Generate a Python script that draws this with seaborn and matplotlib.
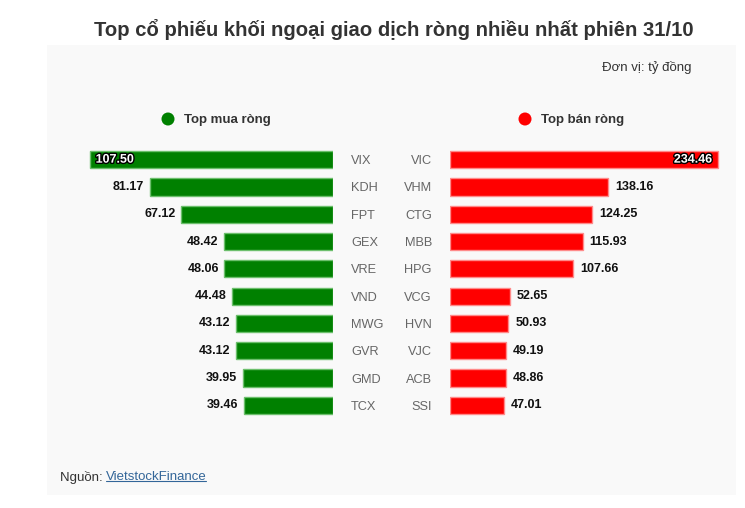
import matplotlib
matplotlib.use("Agg")
import matplotlib.pyplot as plt
import matplotlib.patheffects as pe
from matplotlib.patches import Rectangle, Ellipse
from matplotlib.lines import Line2D
import seaborn as sns

# ----------------------------------------------------
# data (ty dong)
# ----------------------------------------------------
buy_tickers = ["VIX", "KDH", "FPT", "GEX", "VRE", "VND", "MWG", "GVR", "GMD", "TCX"]
buy_values = [107.50, 81.17, 67.12, 48.42, 48.06, 44.48, 43.12, 43.12, 39.95, 39.46]

sell_tickers = ["VIC", "VHM", "CTG", "MBB", "HPG", "VCG", "HVN", "VJC", "ACB", "SSI"]
sell_values = [234.46, 138.16, 124.25, 115.93, 107.66, 52.65, 50.93, 49.19, 48.86, 47.01]

TITLE = "Top cổ phiếu khối ngoại giao dịch ròng nhiều nhất phiên 31/10"
UNIT = "Đơn vị: tỷ đồng"
BUY_LABEL = "Top mua ròng"
SELL_LABEL = "Top bán ròng"

GREEN, GREEN_EDGE = "#008000", "#6cbf6c"
RED, RED_EDGE = "#ff0000", "#ff8a8a"

sns.set_theme(style="white")
plt.rcParams["font.family"] = ["Liberation Sans", "DejaVu Sans"]

W, H = 745, 508
fig = plt.figure(figsize=(W / 100, H / 100), dpi=100)
fig.patch.set_facecolor("white")


def fx(px):
    return px / W


def fy(py):
    return 1 - py / H


# panel background
fig.patches.append(Rectangle((fx(47), fy(495)), fx(736) - fx(47), fy(45) - fy(495),
                             transform=fig.transFigure, facecolor="#f9f9f9",
                             edgecolor="none", zorder=-5))

fig.text(fx(394), fy(27), TITLE, ha="center", va="center_baseline",
         fontsize=14.6, fontweight="bold", color="#333333")
fig.text(fx(691), fy(66), UNIT, ha="right", va="center_baseline",
         fontsize=9.5, color="#333333")

# legend
for cx, col, lab in [(168, GREEN, BUY_LABEL), (525, RED, SELL_LABEL)]:
    fig.patches.append(Ellipse((fx(cx), fy(119)), 13 / W, 13 / H, transform=fig.transFigure,
                               facecolor=col, edgecolor="none"))
    fig.text(fx(cx + 16), fy(119), lab, ha="left", va="center_baseline",
             fontsize=9.5, fontweight="bold", color="#333333")

# ----------------------------------------------------
# bars
# ----------------------------------------------------
axL = fig.add_axes([fx(60), fy(419), fx(333) - fx(60), fy(146) - fy(419)])
axR = fig.add_axes([fx(450), fy(419), fx(735) - fx(450), fy(146) - fy(419)])

sns.barplot(x=buy_values, y=buy_tickers, ax=axL, color=GREEN, saturation=1,
            edgecolor=GREEN_EDGE, linewidth=1, width=0.63)
sns.barplot(x=sell_values, y=sell_tickers, ax=axR, color=RED, saturation=1,
            edgecolor=RED_EDGE, linewidth=1, width=0.63)

axL.set_xlim(120.8, 0)
axR.set_xlim(0, 249.3)

for ax in (axL, axR):
    ax.set_ylim(9.5, -0.5)
    ax.set_facecolor("none")
    for s in ax.spines.values():
        s.set_visible(False)
    ax.set_xticks([])
    ax.set_xlabel("")
    ax.set_ylabel("")
    ax.tick_params(axis="y", length=0, pad=13, labelsize=9.2, labelcolor="#666666")

axL.yaxis.tick_right()

stroke = [pe.withStroke(linewidth=2.0, foreground="black")]
for i, v in enumerate(buy_values):
    if i == 0:
        axL.annotate(f"{v:.2f}", (v, i), xytext=(4, 0), textcoords="offset points",
                     ha="left", va="center", fontsize=9, fontweight="bold",
                     color="white", path_effects=stroke)
    else:
        axL.annotate(f"{v:.2f}", (v, i), xytext=(-4, 0), textcoords="offset points",
                     ha="right", va="center", fontsize=9, fontweight="bold", color="#111111")

for i, v in enumerate(sell_values):
    if i == 0:
        axR.annotate(f"{v:.2f}", (v, i), xytext=(-4, 0), textcoords="offset points",
                     ha="right", va="center", fontsize=9, fontweight="bold",
                     color="white", path_effects=stroke)
    else:
        axR.annotate(f"{v:.2f}", (v, i), xytext=(5, 0), textcoords="offset points",
                     ha="left", va="center", fontsize=9, fontweight="bold", color="#111111")

# source line
src = fig.text(fx(60), fy(476), "Nguồn: ", ha="left", va="center_baseline",
               fontsize=9.5, color="#333333")
fig.canvas.draw()
bb = src.get_window_extent()
link = fig.text(bb.x1 / W, fy(476), "VietstockFinance", ha="left", va="center_baseline",
                fontsize=9.5, color="#336699")
fig.canvas.draw()
lb = link.get_window_extent()
fig.lines.append(Line2D([lb.x0 / W, lb.x1 / W - 1 / W], [fy(481), fy(481)],
                        transform=fig.transFigure, color="#336699", linewidth=0.8))

fig.savefig("out.png", dpi=100, facecolor="white")
